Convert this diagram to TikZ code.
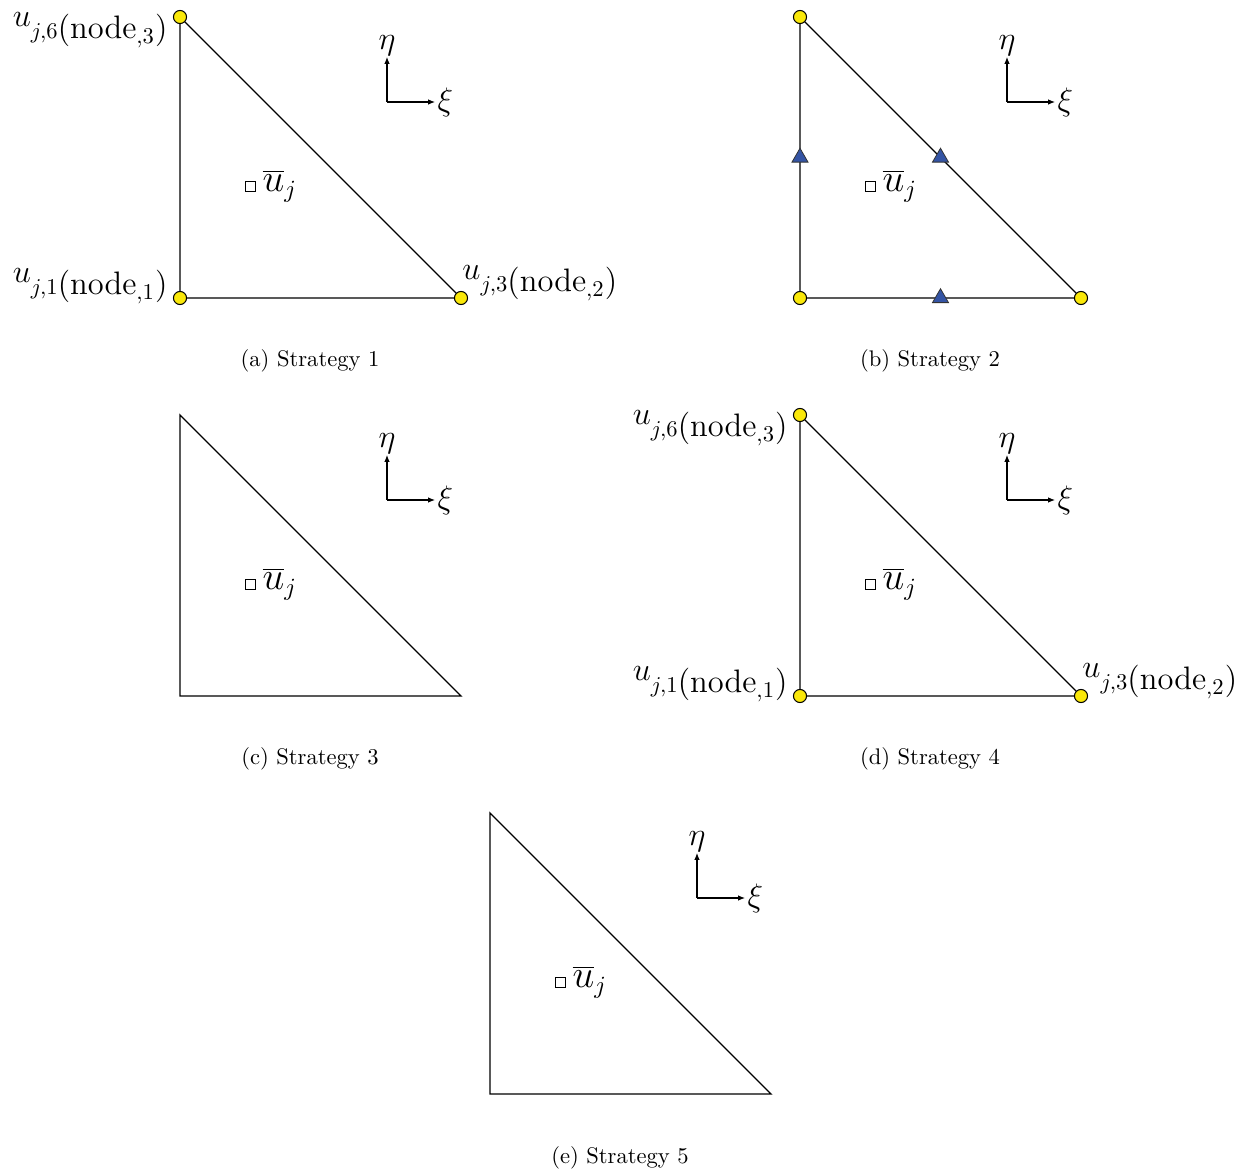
\documentclass[tikz,border=0pt]{standalone}
\usetikzlibrary{arrows.meta,shapes.geometric,calc}
\definecolor{nodeyellow}{RGB}{250,232,10}
\definecolor{triblue}{RGB}{52,84,164}
\tikzset{
  edge/.style={line width=0.6pt, line join=miter},
  axis/.style={line width=0.5pt, -{Latex[length=3pt,width=2.4pt]}},
  lab/.style={font=\Large},
  avglab/.style={font=\fontsize{16}{19}\selectfont},
  avgbox/.style={draw, line width=0.4pt, minimum size=4.4pt, inner sep=0pt},
  vert/.style={circle, draw, line width=0.45pt, fill=nodeyellow, minimum size=5.8pt, inner sep=0pt},
  midtri/.style={regular polygon, regular polygon sides=3, draw=black!80, line width=0.35pt, fill=triblue, minimum size=8.2pt, inner sep=0pt},
  capt/.style={font=\normalsize}
}
\newcommand\mytri[3]{%
  \begin{scope}[shift={(#2,#3)}]
    \coordinate (#1T) at (0,0);
    \coordinate (#1L) at (0,281);
    \coordinate (#1R) at (281,281);
    \draw[edge] (#1T) -- (#1L) -- (#1R) -- cycle;
    \coordinate (#1O) at (207,85);
    \coordinate (#1Y) at (207,40);
    \coordinate (#1X) at (255,85);
    \draw[axis] (#1O) -- (#1Y);
    \draw[axis] (#1O) -- (#1X);
    \node[lab, anchor=south, inner sep=0.5pt] (#1eta) at (#1Y) {$\eta$};
    \node[lab, anchor=west, inner sep=1pt] (#1xi) at (#1X) {$\xi$};
    \node[avgbox] (#1B) at (70,169) {};
    \node[avglab, anchor=west, inner sep=3pt] (#1U) at (#1B.east) {$\overline{u}_j$};
  \end{scope}}
\newcommand\ulab[2]{$u$\raisebox{-5pt}{$\scriptstyle j,#1$(node$_{,#2}$)}}
\begin{document}
\begin{tikzpicture}[x=0.443pt, y=-0.443pt]
  \useasboundingbox (0,0) rectangle (1252,1175);
  % (a)
  \mytri{a}{180}{17}
  \node[vert] (aTc) at (aT) {};
  \node[vert] (aLc) at (aL) {};
  \node[vert] (aRc) at (aR) {};
  \node[lab, anchor=base east, inner sep=0pt] (aTl) at (168,27) {\ulab{6}{3}};
  \node[lab, anchor=base east, inner sep=0pt] (aLl) at (168,283) {\ulab{1}{1}};
  \node[lab, anchor=base west, inner sep=0pt] (aRl) at (462,280) {\ulab{3}{2}};
  \node[capt] (capa) at (310,361) {(a) Strategy 1};
  % (b)
  \mytri{b}{800}{17}
  \node[vert] (bTc) at (bT) {};
  \node[vert] (bLc) at (bL) {};
  \node[vert] (bRc) at (bR) {};
  \node[midtri] (bm1) at ($(bT)!0.5!(bL)$) {};
  \node[midtri] (bm2) at ($(bT)!0.5!(bR)$) {};
  \node[midtri] (bm3) at ($(bL)!0.5!(bR)$) {};
  \node[capt] (capb) at (930,361) {(b) Strategy 2};
  % (c)
  \mytri{c}{180}{415}
  \node[capt] (capc) at (310,759) {(c) Strategy 3};
  % (d)
  \mytri{d}{800}{415}
  \node[vert] (dTc) at (dT) {};
  \node[vert] (dLc) at (dL) {};
  \node[vert] (dRc) at (dR) {};
  \node[lab, anchor=base east, inner sep=0pt] (dTl) at (788,425) {\ulab{6}{3}};
  \node[lab, anchor=base east, inner sep=0pt] (dLl) at (788,681) {\ulab{1}{1}};
  \node[lab, anchor=base west, inner sep=0pt] (dRl) at (1082,678) {\ulab{3}{2}};
  \node[capt] (capd) at (930,759) {(d) Strategy 4};
  % (e)
  \mytri{e}{490}{813}
  \node[capt] (cape) at (620,1158) {(e) Strategy 5};
\end{tikzpicture}
\end{document}
